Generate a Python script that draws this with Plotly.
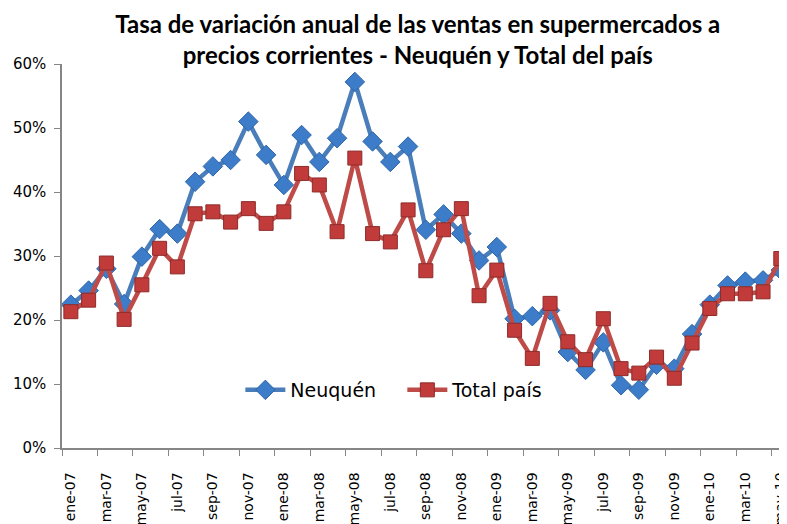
import plotly.graph_objects as go

months = ["ene", "feb", "mar", "abr", "may", "jun", "jul", "ago", "sep", "oct", "nov", "dic"]
categories = [f"{m}-{y:02d}" for y in (7, 8, 9, 10) for m in months][:41]

neuquen = [22.4, 24.6, 28.0, 22.5, 29.9, 34.2, 33.5, 41.6, 44.0, 45.0,
           51.0, 45.8, 41.1, 48.9, 44.7, 48.4, 57.2, 47.9, 44.7, 47.1,
           34.1, 36.5, 33.5, 29.3, 31.4, 20.2, 20.6, 21.5, 15.0, 12.2,
           16.5, 9.8, 9.1, 13.0, 12.4, 17.8, 22.4, 25.4, 26.0, 26.2, 27.8]

total_pais = [21.3, 23.1, 28.9, 20.1, 25.5, 31.2, 28.3, 36.6, 36.9, 35.3,
              37.4, 35.1, 36.9, 42.9, 41.1, 33.8, 45.3, 33.5, 32.2, 37.2,
              27.7, 34.1, 37.4, 23.8, 27.8, 18.4, 14.0, 22.6, 16.6, 13.8,
              20.2, 12.4, 11.7, 14.2, 10.9, 16.4, 21.8, 24.1, 24.1, 24.4, 29.6]

y_ticks = [0, 10, 20, 30, 40, 50, 60]
y_ticktext = [f"{v}%" for v in y_ticks]

fig = go.Figure()
fig.add_trace(go.Scatter(
    x=categories, y=neuquen, name="Neuquén", mode="lines+markers",
    line=dict(color="#4A7EBB", width=4.5),
    marker=dict(symbol="diamond", size=15, color="#3D7CC9",
                line=dict(color="#2F66A8", width=1)),
    cliponaxis=False,
))
fig.add_trace(go.Scatter(
    x=categories, y=total_pais, name="Total país", mode="lines+markers",
    line=dict(color="#BE4B48", width=4.5),
    marker=dict(symbol="square", size=14, color="#C23B3B",
                line=dict(color="#8E2B2A", width=1)),
    cliponaxis=False,
))

fig.update_layout(
    width=779, height=516,
    margin=dict(l=54, r=0, t=56, b=76, autoexpand=False),
    paper_bgcolor="white", plot_bgcolor="white",
    title=dict(
        text="Tasa de variación anual de las ventas en supermercados a<br>precios corrientes - Neuquén y Total del país",
        x=0.526, xanchor="center", y=0.951, yanchor="top",
        font=dict(family="Lato", size=24, color="black", weight="bold"),
    ),
    font=dict(family="Lato", color="black"),
    legend=dict(
        orientation="h", x=0.246, y=0.151, xanchor="left", yanchor="middle",
        font=dict(family="DejaVu Sans", size=19, color="black"),
        bgcolor="rgba(0,0,0,0)", itemwidth=40, tracegroupgap=0,
        entrywidth=107, entrywidthmode="pixels",
    ),
    showlegend=True,
)

fig.update_xaxes(
    type="category", range=[-0.5, 40.35], automargin=False,
    tickmode="linear", tick0=0, dtick=2,
    tickson="boundaries", ticks="outside", ticklen=6, tickcolor="#868686",
    ticklabelstandoff=17,
    tickangle=-90, tickfont=dict(family="DejaVu Sans", size=14, color="black"),
    showline=True, linecolor="#868686", linewidth=1.5,
    showgrid=False, zeroline=False,
)
fig.update_yaxes(
    range=[0, 60], tickmode="array", tickvals=y_ticks, ticktext=y_ticktext,
    automargin=False, ticklabelstandoff=5,
    ticks="outside", ticklen=6, tickcolor="#868686",
    tickfont=dict(family="DejaVu Sans", size=15, color="black"),
    showline=True, linecolor="#868686", linewidth=1.5,
    showgrid=False, zeroline=False,
)

fig.write_html("out.html")
